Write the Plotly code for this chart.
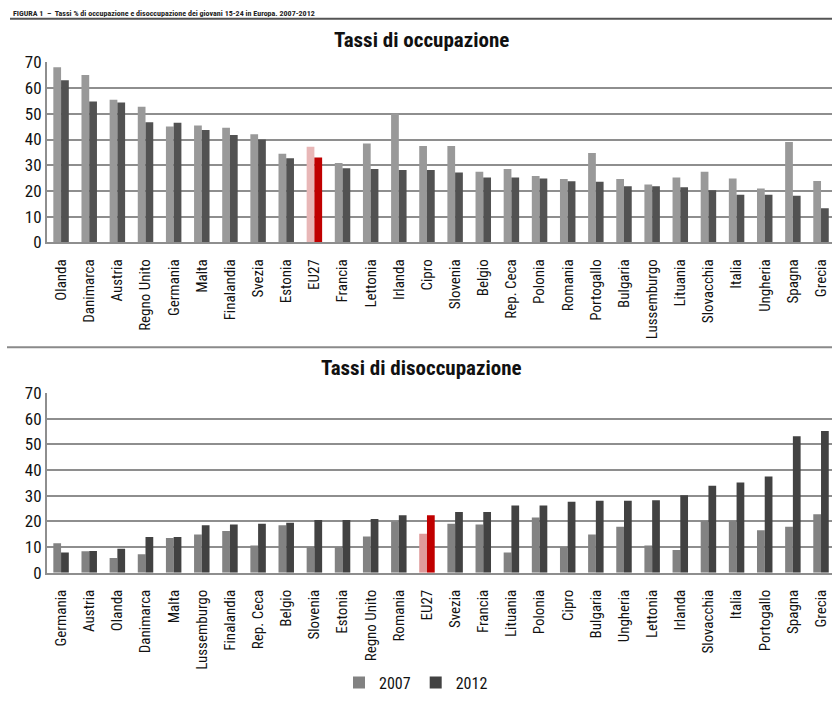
import plotly.graph_objects as go

# Youth (15-24) employment and unemployment rates, EU countries, 2007 vs 2012
occ_paesi = ["Olanda", "Danimarca", "Austria", "Regno Unito", "Germania", "Malta",
             "Finalandia", "Svezia", "Estonia", "EU27", "Francia", "Lettonia", "Irlanda",
             "Cipro", "Slovenia", "Belgio", "Rep. Ceca", "Polonia", "Romania", "Portogallo",
             "Bulgaria", "Lussemburgo", "Lituania", "Slovacchia", "Italia", "Ungheria",
             "Spagna", "Grecia"]
occ_2007 = [68.1, 65.1, 55.5, 52.8, 45.1, 45.5, 44.6, 42.1, 34.5, 37.2, 30.9, 38.5, 50.1,
            37.5, 37.5, 27.5, 28.5, 25.8, 24.6, 34.8, 24.6, 22.5, 25.2, 27.5, 24.8, 20.9,
            39.0, 23.9]
occ_2012 = [63.1, 54.8, 54.4, 46.7, 46.5, 43.7, 41.8, 40.0, 32.7, 33.0, 28.8, 28.5, 28.1,
            28.1, 27.2, 25.2, 25.2, 24.8, 23.8, 23.6, 21.8, 21.8, 21.4, 20.3, 18.5, 18.5,
            18.1, 13.2]

dis_paesi = ["Germania", "Austria", "Olanda", "Danimarca", "Malta", "Lussemburgo",
             "Finalandia", "Rep. Ceca", "Belgio", "Slovenia", "Estonia", "Regno Unito",
             "Romania", "EU27", "Svezia", "Francia", "Lituania", "Polonia", "Cipro",
             "Bulgaria", "Ungheria", "Lettonia", "Irlanda", "Slovacchia", "Italia",
             "Portogallo", "Spagna", "Grecia"]
dis_2007 = [11.5, 8.4, 5.7, 7.2, 13.5, 14.9, 16.2, 10.6, 18.5, 10.0, 10.0, 14.1, 19.9,
            15.2, 19.1, 18.8, 7.9, 21.5, 10.0, 14.9, 17.9, 10.6, 8.8, 20.2, 20.2, 16.5,
            17.9, 22.8]
dis_2012 = [7.9, 8.5, 9.3, 13.9, 13.9, 18.5, 18.8, 19.1, 19.5, 20.5, 20.5, 20.9, 22.4,
            22.4, 23.6, 23.6, 26.2, 26.2, 27.6, 28.0, 28.0, 28.2, 30.2, 33.9, 35.1, 37.5,
            53.1, 55.2]

y_ticks = [0, 10, 20, 30, 40, 50, 60, 70]
anni = ["2007", "2012"]

W, H = 832, 711
COND = "Roboto Condensed, Liberation Sans Narrow, DejaVu Sans Condensed, Roboto, sans-serif"
GRID = "#8e8e8e"


def colori(paesi, base, evid):
    return [evid if p == "EU27" else base for p in paesi]


def py(px):
    return 1 - px / H


fig = go.Figure()

# upper panel: employment
fig.add_trace(go.Bar(x=occ_paesi, y=occ_2007, name=anni[0], showlegend=False,
                     marker=dict(color=colori(occ_paesi, "#999999", "#e8b7b7"), line_width=0),
                     xaxis="x", yaxis="y"))
fig.add_trace(go.Bar(x=occ_paesi, y=occ_2012, name=anni[1], showlegend=False,
                     marker=dict(color=colori(occ_paesi, "#525252", "#c00000"), line_width=0),
                     xaxis="x", yaxis="y"))

# lower panel: unemployment
fig.add_trace(go.Bar(x=dis_paesi, y=dis_2007, name=anni[0],
                     marker=dict(color=colori(dis_paesi, "#828282", "#df9a9a"), line_width=0),
                     xaxis="x2", yaxis="y2"))
fig.add_trace(go.Bar(x=dis_paesi, y=dis_2012, name=anni[1],
                     marker=dict(color=colori(dis_paesi, "#424242", "#c00000"), line_width=0),
                     xaxis="x2", yaxis="y2"))

xrange = [-0.5, 27.39]
xdom = [47 / W, 1.0]

common_x = dict(type="category", range=xrange, domain=xdom, tickangle=-90,
                showgrid=False, showline=True, linecolor=GRID, linewidth=2,
                ticks="", ticklabelstandoff=9,
                tickfont=dict(family=COND, size=15, color="#111"))
common_y = dict(range=[0, 70], tickvals=y_ticks, showgrid=True, gridcolor=GRID,
                gridwidth=1.5, zeroline=False, showline=True, linecolor=GRID, linewidth=2,
                ticks="", tickfont=dict(family=COND, size=17, color="#111"))

fig.update_layout(
    width=W, height=H,
    margin=dict(l=0, r=0, t=0, b=0),
    paper_bgcolor="white", plot_bgcolor="white",
    barmode="group", bargap=0.45, bargroupgap=0.0,
    xaxis=dict(**common_x, anchor="y"),
    yaxis=dict(**common_y, domain=[py(239), py(54)], anchor="x"),
    xaxis2=dict(**common_x, anchor="y2"),
    yaxis2=dict(**common_y, domain=[py(579), py(394)], anchor="x2"),
    legend=dict(orientation="h", x=0.5, xanchor="center", y=py(692), yanchor="middle",
                font=dict(family=COND, size=16, color="#111"),
                itemwidth=30, traceorder="normal"),
    showlegend=True,
)

fig.add_annotation(text="<b>Tassi di occupazione</b>", xref="paper", yref="paper",
                   x=421 / W, y=py(31), xanchor="center", yanchor="middle",
                   showarrow=False, font=dict(family=COND, size=21, color="#111"))
fig.add_annotation(text="<b>Tassi di disoccupazione</b>", xref="paper", yref="paper",
                   x=421 / W, y=py(368), xanchor="center", yanchor="middle",
                   showarrow=False, font=dict(family=COND, size=21, color="#111"))

# figure heading above the top rule
fig.add_annotation(text="<b>FIGURA 1  –  Tassi % di occupazione e disoccupazione dei giovani 15-24 in Europa. 2007-2012</b>",
                   xref="paper", yref="paper", x=12 / W, y=py(4), xanchor="left",
                   yanchor="middle", showarrow=False, borderpad=0,
                   font=dict(family=COND, size=8, color="#222"))

fig.add_shape(type="line", xref="paper", yref="paper", x0=10 / W, x1=1, y0=py(9), y1=py(9),
              line=dict(color="#555", width=2))
fig.add_shape(type="line", xref="paper", yref="paper", x0=7 / W, x1=1, y0=py(347), y1=py(347),
              line=dict(color="#8a8a8a", width=2))

fig.write_html("out.html")
